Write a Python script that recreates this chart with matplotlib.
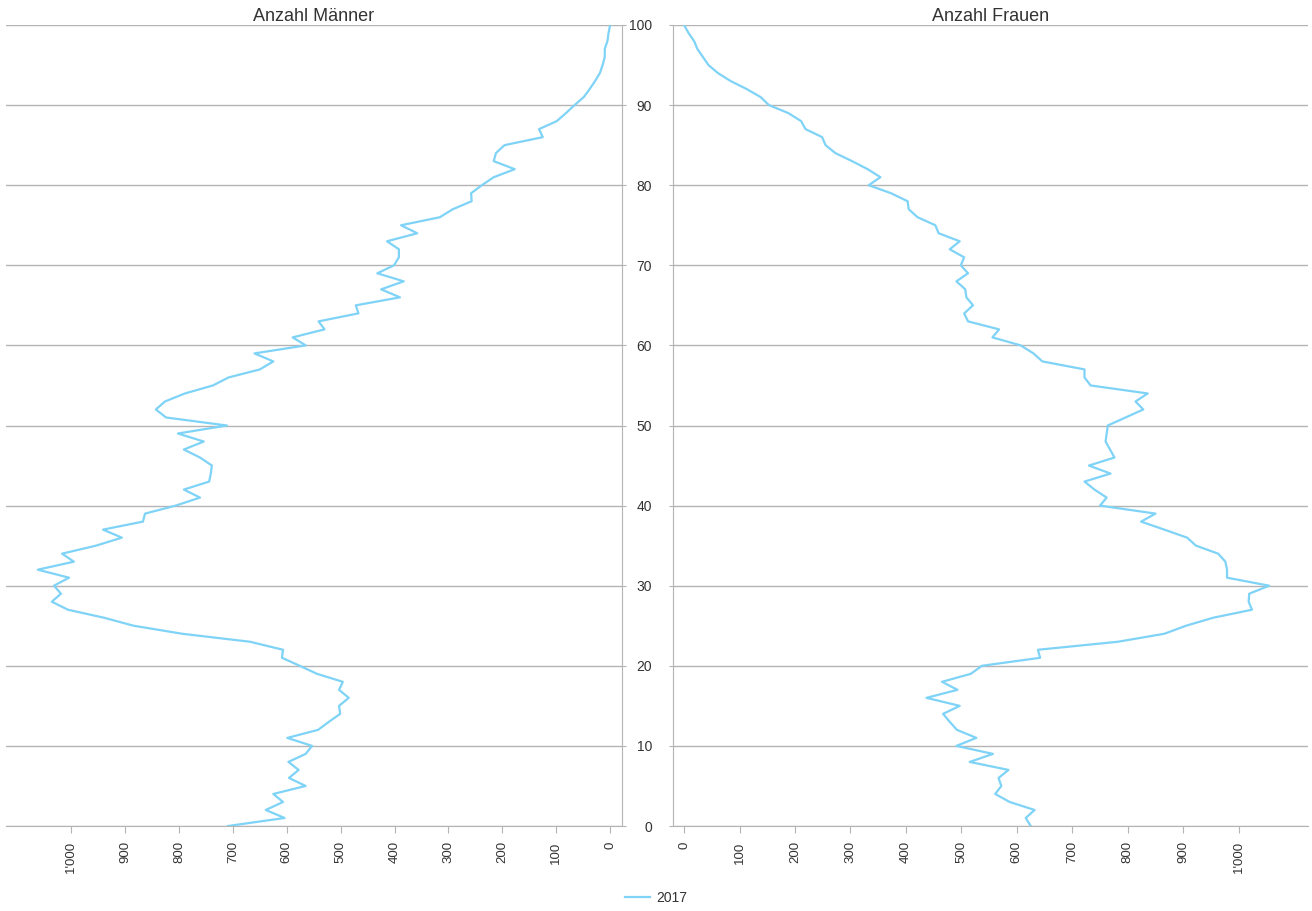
import matplotlib
matplotlib.use("Agg")
import matplotlib.pyplot as plt
from matplotlib.ticker import FuncFormatter, MultipleLocator

plt.rcParams['font.family'] = ['Liberation Sans Narrow', 'Liberation Sans', 'DejaVu Sans']

ages = list(range(0, 101))

# Anzahl Männer, Alter 0..100
maenner = [709, 604, 639, 607, 625, 565, 596, 578, 597, 565,
           553, 599, 542, 522, 501, 503, 485, 503, 496, 544,
           576, 609, 607, 668, 794, 884, 939, 1006, 1036, 1019,
           1032, 1004, 1062, 995, 1017, 954, 906, 941, 867, 863,
           806, 761, 791, 744, 741, 739, 761, 791, 754, 802,
           711, 824, 843, 826, 789, 737, 708, 650, 625, 660,
           565, 589, 530, 541, 467, 472, 390, 425, 383, 432,
           401, 392, 392, 414, 358, 388, 316, 292, 257, 258,
           238, 216, 177, 216, 212, 196, 125, 132, 99, 82,
           66, 49, 38, 28, 19, 14, 10, 10, 5, 3, 0]

# Anzahl Frauen, Alter 0..100
frauen = [625, 616, 632, 587, 561, 572, 567, 585, 515, 557,
          491, 527, 492, 479, 467, 497, 437, 493, 465, 517,
          537, 642, 638, 782, 866, 905, 954, 1024, 1018, 1019,
          1055, 979, 979, 976, 963, 923, 907, 866, 824, 850,
          750, 762, 740, 722, 769, 730, 776, 768, 760, 762,
          764, 796, 828, 814, 836, 733, 722, 722, 646, 630,
          607, 556, 568, 512, 505, 521, 509, 507, 491, 512,
          499, 505, 479, 497, 459, 453, 421, 405, 403, 373,
          333, 354, 331, 303, 273, 255, 249, 219, 211, 188,
          153, 138, 113, 84, 61, 44, 34, 24, 18, 8, 0]

series_label = "2017"
line_col = "#7fd3f7"
grid_col = "#b4b4b4"
text_col = "#333333"


def fmt(v, pos):
    v = int(round(v))
    if v >= 1000:
        return "%d'%03d" % (v // 1000, v % 1000)
    return str(v)


fig = plt.figure(figsize=(13.12, 9.11), dpi=100)
axl = fig.add_axes([6 / 1312, 85 / 911, 616 / 1312, 801 / 911])
axr = fig.add_axes([673 / 1312, 85 / 911, 635 / 1312, 801 / 911])

axl.plot(maenner, ages, color=line_col, lw=1.6)
axr.plot(frauen, ages, color=line_col, lw=1.6, label=series_label)

axl.set_xlim(1121, -22)
axr.set_xlim(-20, 1125)

for ax in (axl, axr):
    ax.set_ylim(0, 100)
    ax.yaxis.set_major_locator(MultipleLocator(10))
    ax.xaxis.set_major_locator(MultipleLocator(100))
    ax.xaxis.set_major_formatter(FuncFormatter(fmt))
    ax.grid(axis="y", color=grid_col, lw=1)
    ax.set_axisbelow(True)
    for s in ("top", "left", "right"):
        ax.spines[s].set_visible(False)
    ax.spines["bottom"].set_color(grid_col)
    ax.tick_params(axis="x", colors=grid_col, length=5, labelcolor=text_col,
                   labelsize=9.5, labelrotation=90, pad=6)

axl.set_xticks([t for t in range(0, 1001, 100)])
axr.set_xticks([t for t in range(0, 1001, 100)])

# left: y axis on right side, no labels
axl.spines["right"].set_visible(True)
axl.spines["right"].set_color(grid_col)
axl.yaxis.tick_right()
axl.tick_params(axis="y", colors=grid_col, length=3, labelright=False)

# right: y labels on left side
axr.spines["left"].set_visible(True)
axr.spines["left"].set_color(grid_col)
axr.tick_params(axis="y", colors=grid_col, length=3, labelcolor=text_col,
                labelsize=10, pad=12)

for lab in axl.get_xticklabels() + axr.get_xticklabels():
    lab.set_verticalalignment("top")

axl.set_title("Anzahl Männer", fontsize=13, color=text_col, pad=3)
axr.set_title("Anzahl Frauen", fontsize=13, color=text_col, pad=3)

fig.legend(loc="center", bbox_to_anchor=(656 / 1312, 1 - 898 / 911),
           frameon=False, fontsize=10, handlelength=1.8, handletextpad=0.5,
           labelcolor=text_col)

fig.savefig("out.png", dpi=100, facecolor="white")
